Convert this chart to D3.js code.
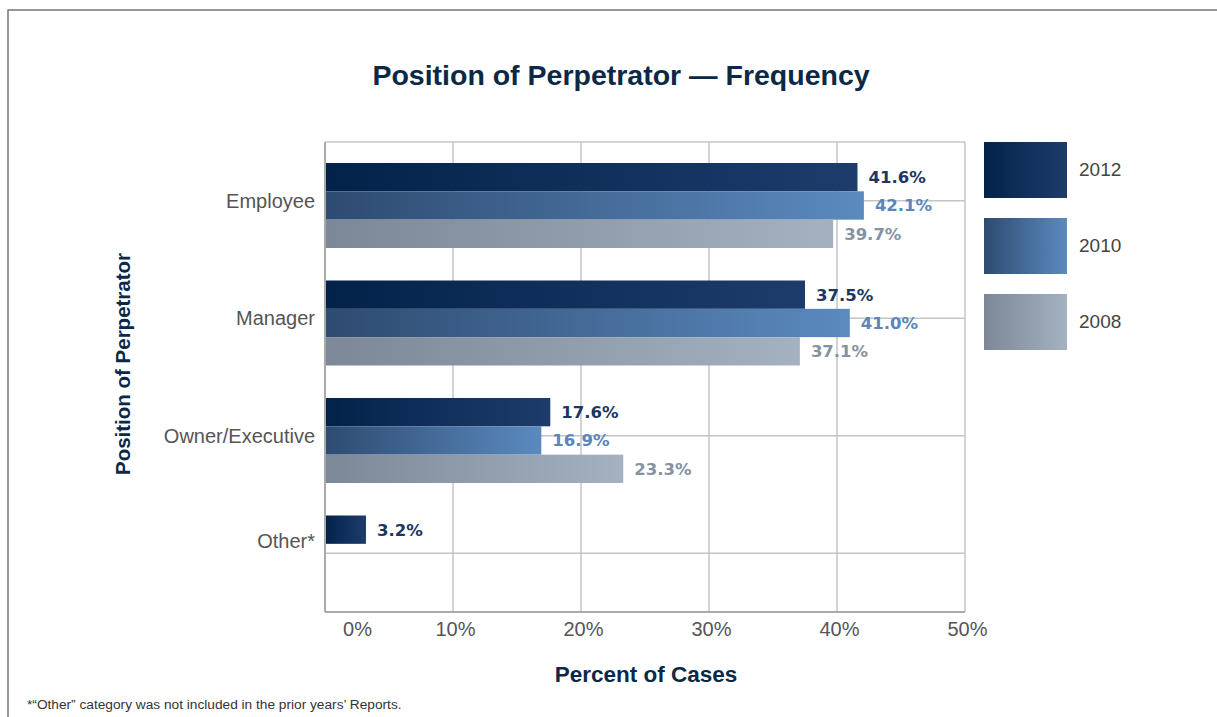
<!DOCTYPE html>
<html>
<head>
<meta charset="utf-8">
<script src="https://cdn.jsdelivr.net/npm/d3@7"></script>
<style>
  body { margin: 0; background: #fff; }
  svg { display: block; }
</style>
</head>
<body>
<div id="chart"></div>
<script>
// data
var categories = ["Employee", "Manager", "Owner/Executive", "Other*"];
var years = ["2012", "2010", "2008"];
var values2012 = [41.6, 37.5, 17.6, 3.2];
var values2010 = [42.1, 41.0, 16.9, null];
var values2008 = [39.7, 37.1, 23.3, null];
var tickValues = [0, 10, 20, 30, 40, 50];

var seriesValues = { "2012": values2012, "2010": values2010, "2008": values2008 };
var gradStops = {
  "2012": ["#03224a", "#1e3c6b"],
  "2010": ["#2e4b71", "#5b8abf"],
  "2008": ["#7c8897", "#a4b1c1"]
};
var labelColors = { "2012": "#1b3660", "2010": "#5a86bb", "2008": "#8592a2" };

var width = 1217, height = 717;
var plot = { left: 325, right: 965, top: 142, bottom: 612 };

var svg = d3.select("#chart").append("svg")
  .attr("width", width)
  .attr("height", height);

var defs = svg.append("defs");
years.forEach(function(y) {
  var g = defs.append("linearGradient")
    .attr("id", "grad" + y)
    .attr("x1", "0%").attr("x2", "100%")
    .attr("y1", "0%").attr("y2", "0%");
  g.append("stop").attr("offset", "0%").attr("stop-color", gradStops[y][0]);
  g.append("stop").attr("offset", "100%").attr("stop-color", gradStops[y][1]);
});

// frame (top and left edges only)
svg.append("path")
  .attr("d", "M8," + height + " L8,10 L" + width + ",10")
  .attr("fill", "none")
  .attr("stroke", "#777")
  .attr("stroke-width", 1.5);

// title
svg.append("text")
  .attr("x", 621).attr("y", 85)
  .attr("text-anchor", "middle")
  .style("font-family", "'Liberation Sans', Arial, sans-serif")
  .style("font-weight", "bold")
  .style("font-size", "28.5px")
  .style("fill", "#0b2847")
  .text("Position of Perpetrator \u2014 Frequency");

var x = d3.scaleLinear().domain([0, 50]).range([plot.left, plot.right]);
var y = d3.scaleBand().domain(categories).range([plot.top, plot.bottom]);
var ySub = d3.scaleBand().domain(years).range([0, 85]);
var groupOffset = 21;

// grid
var grid = svg.append("g");
grid.selectAll("line.v")
  .data(tickValues.slice(1))
  .enter().append("line")
  .attr("class", "v")
  .attr("x1", function(d) { return x(d); })
  .attr("x2", function(d) { return x(d); })
  .attr("y1", plot.top).attr("y2", plot.bottom)
  .attr("stroke", "#c4c4c4").attr("stroke-width", 1.5);
grid.selectAll("line.h")
  .data(categories)
  .enter().append("line")
  .attr("class", "h")
  .attr("x1", plot.left).attr("x2", plot.right)
  .attr("y1", function(d) { return y(d) + y.bandwidth() / 2; })
  .attr("y2", function(d) { return y(d) + y.bandwidth() / 2; })
  .attr("stroke", "#c4c4c4").attr("stroke-width", 1.5);
grid.append("line")
  .attr("x1", plot.left).attr("x2", plot.right)
  .attr("y1", plot.top).attr("y2", plot.top)
  .attr("stroke", "#c4c4c4").attr("stroke-width", 1.5);

// bars
years.forEach(function(yr) {
  var rows = categories.map(function(c, i) { return { cat: c, v: seriesValues[yr][i] }; })
    .filter(function(d) { return d.v != null; });
  var g = svg.append("g");
  g.selectAll("rect")
    .data(rows)
    .enter().append("rect")
    .attr("x", x(0))
    .attr("y", function(d) { return y(d.cat) + groupOffset + ySub(yr); })
    .attr("width", function(d) { return x(d.v) - x(0); })
    .attr("height", ySub.bandwidth())
    .attr("fill", "url(#grad" + yr + ")");
  g.selectAll("text")
    .data(rows)
    .enter().append("text")
    .attr("x", function(d) { return x(d.v) + 11; })
    .attr("y", function(d) { return y(d.cat) + groupOffset + ySub(yr) + ySub.bandwidth() / 2; })
    .attr("dy", "0.36em")
    .style("font-family", "'DejaVu Sans', sans-serif")
    .style("font-weight", "bold")
    .style("font-size", "16.5px")
    .style("fill", labelColors[yr])
    .text(function(d) { return d.v.toFixed(1) + "%"; });
});

// axes lines
svg.append("line")
  .attr("x1", plot.left).attr("x2", plot.left)
  .attr("y1", plot.top).attr("y2", plot.bottom)
  .attr("stroke", "#aaa").attr("stroke-width", 2);
svg.append("line")
  .attr("x1", plot.left).attr("x2", plot.right)
  .attr("y1", plot.bottom).attr("y2", plot.bottom)
  .attr("stroke", "#aaa").attr("stroke-width", 2);

// x tick labels
var xAxis = d3.axisBottom(x)
  .tickValues(tickValues)
  .tickSize(0)
  .tickPadding(0)
  .tickFormat(function(d) { return d + "%"; });
var gx = svg.append("g")
  .attr("transform", "translate(0," + plot.bottom + ")")
  .call(xAxis);
gx.select(".domain").remove();
gx.selectAll("text")
  .attr("y", 24)
  .attr("dy", 0)
  .attr("dx", function(d) { return d === 0 ? 32 : 2; })
  .style("font-family", "'Liberation Sans', Arial, sans-serif")
  .style("font-size", "20px")
  .style("fill", "#555");

// category labels
var yAxis = d3.axisLeft(y).tickSize(0).tickPadding(10);
var gy = svg.append("g")
  .attr("transform", "translate(" + plot.left + ",0)")
  .call(yAxis);
gy.select(".domain").remove();
gy.selectAll("text")
  .attr("dy", function(d) { return d === "Other*" ? "-0.25em" : "0.35em"; })
  .style("font-family", "'Liberation Sans', Arial, sans-serif")
  .style("font-size", "20px")
  .style("fill", "#555");

// axis titles
svg.append("text")
  .attr("x", 646).attr("y", 682)
  .attr("text-anchor", "middle")
  .style("font-family", "'Liberation Sans', Arial, sans-serif")
  .style("font-weight", "bold")
  .style("font-size", "22.5px")
  .style("fill", "#0b2847")
  .text("Percent of Cases");

svg.append("text")
  .attr("transform", "translate(130,364) rotate(-90)")
  .attr("text-anchor", "middle")
  .style("font-family", "'Liberation Sans', Arial, sans-serif")
  .style("font-weight", "bold")
  .style("font-size", "20.5px")
  .style("fill", "#0b2847")
  .text("Position of Perpetrator");

// legend
var legend = svg.append("g").attr("transform", "translate(984,142)");
var li = legend.selectAll("g")
  .data(years)
  .enter().append("g")
  .attr("transform", function(d, i) { return "translate(0," + i * 76 + ")"; });
li.append("rect")
  .attr("width", 83).attr("height", 56)
  .attr("fill", function(d) { return "url(#grad" + d + ")"; });
li.append("text")
  .attr("x", 95).attr("y", 27)
  .attr("dy", "0.35em")
  .style("font-family", "'Liberation Sans', Arial, sans-serif")
  .style("font-size", "19px")
  .style("fill", "#444")
  .text(function(d) { return d; });

// footnote
svg.append("text")
  .attr("x", 27).attr("y", 709)
  .style("font-family", "'Liberation Sans', Arial, sans-serif")
  .style("font-size", "13.7px")
  .style("fill", "#333")
  .text("*\u201COther\u201D category was not included in the prior years\u2019 Reports.");
</script>
</body>
</html>
